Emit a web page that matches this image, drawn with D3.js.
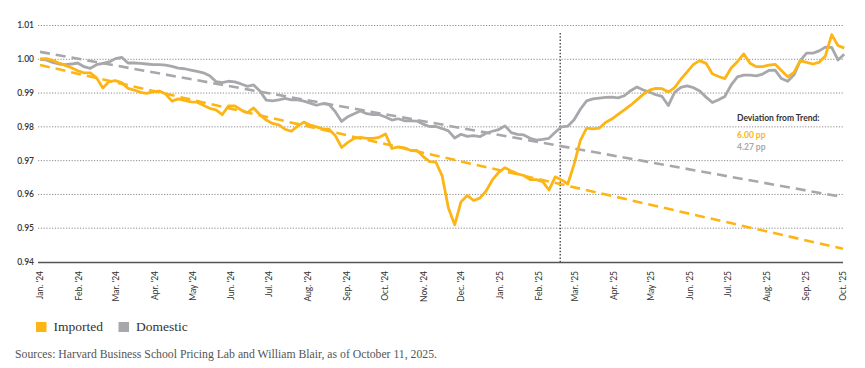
<!DOCTYPE html>
<html>
<head>
<meta charset="utf-8">
<script src="https://cdn.jsdelivr.net/npm/d3@7"></script>
<style>
    body { margin: 0; background: #fff; }
</style>
</head>
<body>
<svg id="chart" width="865" height="368" font-family="Lato, 'Open Sans', sans-serif"></svg>
<script>
// month tick labels (Jan '24 .. Oct '25)
const monthLabels = ["Jan. '24", "Feb. '24", "Mar. '24", "Apr. '24", "May '24", "Jun. '24", "Jul. '24",
    "Aug. '24", "Sep. '24", "Oct. '24", "Nov. '24", "Dec. '24", "Jan. '25", "Feb. '25", "Mar. '25",
    "Apr. '25", "May '25", "Jun. '25", "Jul. '25", "Aug. '25", "Sep. '25", "Oct. '25"];

// one reading every 5 days starting Jan 1, 2024
const startDate = new Date(2024, 0, 1);
const stepDays = 5;

const imported = [
    1.0001, 1.0002, 0.9997, 0.9989, 0.9982, 0.9975, 0.9966, 0.9960, 0.9960, 0.9945,
    0.9915, 0.9934, 0.9937, 0.9931, 0.9914, 0.9909, 0.9902, 0.9899, 0.9904, 0.9906,
    0.9897, 0.9876, 0.9883, 0.9878, 0.9874, 0.9873, 0.9864, 0.9855, 0.9850, 0.9836,
    0.9862, 0.9862, 0.9850, 0.9842, 0.9856, 0.9836, 0.9820, 0.9810, 0.9806, 0.9793,
    0.9787, 0.9802, 0.9814, 0.9805, 0.9800, 0.9794, 0.9793, 0.9774, 0.9739, 0.9754,
    0.9766, 0.9769, 0.9766, 0.9766, 0.9769, 0.9779, 0.9736, 0.9741, 0.9738, 0.9730,
    0.9730, 0.9712, 0.9697, 0.9696, 0.9655, 0.9560, 0.9510, 0.9578, 0.9597, 0.9582,
    0.9589, 0.9610, 0.9643, 0.9665, 0.9679, 0.9669, 0.9661, 0.9656, 0.9644, 0.9644,
    0.9638, 0.9613, 0.9652, 0.9643, 0.9631, 0.9689, 0.9760, 0.9796, 0.9794, 0.9796,
    0.9813, 0.9823, 0.9837, 0.9850, 0.9864, 0.9880, 0.9896, 0.9909, 0.9914, 0.9913,
    0.9903, 0.9916, 0.9941, 0.9963, 0.9985, 0.9996, 0.9988, 0.9957, 0.9949, 0.9943,
    0.9974, 0.9993, 1.0016, 0.9988, 0.9978, 0.9978, 0.9983, 0.9985, 0.9967, 0.9948,
    0.9961, 0.9996, 0.9991, 0.9986, 0.9991, 1.0010, 1.0073, 1.0041, 1.0033
];

const domestic = [
    1.0000, 0.9998, 0.9991, 0.9986, 0.9984, 0.9986, 0.9989, 0.9978, 0.9973, 0.9984,
    0.9988, 0.9992, 1.0002, 1.0006, 0.9989, 0.9989, 0.9988, 0.9986, 0.9984, 0.9984,
    0.9983, 0.9979, 0.9974, 0.9972, 0.9968, 0.9964, 0.9960, 0.9951, 0.9934, 0.9931,
    0.9935, 0.9933, 0.9927, 0.9920, 0.9924, 0.9906, 0.9879, 0.9877, 0.9880, 0.9884,
    0.9880, 0.9880, 0.9876, 0.9870, 0.9864, 0.9869, 0.9866, 0.9845, 0.9816, 0.9830,
    0.9839, 0.9847, 0.9839, 0.9836, 0.9836, 0.9829, 0.9820, 0.9824, 0.9818, 0.9818,
    0.9817, 0.9808, 0.9801, 0.9801, 0.9795, 0.9788, 0.9767, 0.9778, 0.9772, 0.9774,
    0.9771, 0.9781, 0.9787, 0.9792, 0.9803, 0.9783, 0.9778, 0.9776, 0.9766, 0.9761,
    0.9763, 0.9766, 0.9784, 0.9800, 0.9802, 0.9821, 0.9852, 0.9877, 0.9883, 0.9885,
    0.9887, 0.9888, 0.9886, 0.9892, 0.9907, 0.9918, 0.9909, 0.9903, 0.9895, 0.9890,
    0.9863, 0.9902, 0.9917, 0.9921, 0.9916, 0.9906, 0.9888, 0.9872, 0.9880, 0.9890,
    0.9924, 0.9948, 0.9953, 0.9953, 0.9951, 0.9956, 0.9967, 0.9968, 0.9943, 0.9935,
    0.9954, 0.9996, 1.0018, 1.0018, 1.0025, 1.0036, 1.0035, 0.9998, 1.0015
];

// linear trend lines (start / end)
const trendDates = ["2024-01-01", "2025-10-01"];
const importedTrend = [0.9983, 0.9439];
const domesticTrend = [1.0022, 0.9592];

const eventDate = "2025-02-18";
const yTicks = [0.94, 0.95, 0.96, 0.97, 0.98, 0.99, 1.00, 1.01];

const deviationTitle = "Deviation from Trend:";
const deviationLabels = ["6.00 pp", "4.27 pp"];

const legendNames = ["Imported", "Domestic"];
const sourceNote = "Sources: Harvard Business School Pricing Lab and William Blair, as of October 11, 2025.";

const colors = { imported: "#FDB515", domestic: "#A7A8AB" };

const svg = d3.select("#chart");
const parse = d3.timeParse("%Y-%m-%d");

const x = d3.scaleTime()
    .domain([new Date(2024, 0, 1), new Date(2025, 9, 1)])
    .range([40, 843]);
const y = d3.scaleLinear()
    .domain([0.94, 1.01])
    .range([262, 25.5]);

// horizontal gridlines
svg.append("g")
    .selectAll("line")
    .data(yTicks.filter(d => d > 0.94))
    .enter().append("line")
    .attr("x1", 38)
    .attr("x2", 843)
    .attr("y1", d => y(d))
    .attr("y2", d => y(d))
    .attr("stroke", "#6d6d6d")
    .attr("stroke-width", 0.8)
    .attr("stroke-dasharray", "1.2,1.6");

// y labels
svg.append("g")
    .selectAll("text")
    .data(yTicks)
    .enter().append("text")
    .attr("x", 34)
    .attr("y", d => y(d))
    .attr("dy", "0.35em")
    .attr("text-anchor", "end")
    .attr("font-size", 8.5)
    .attr("font-weight", 600)
    .attr("fill", "#333")
    .text(d => d3.format(".2f")(d));

// x axis
const monthDates = monthLabels.map((_, i) => new Date(2024, i, 1));
const xAxis = svg.append("g")
    .attr("transform", "translate(0,262)")
    .call(d3.axisBottom(x).tickValues(monthDates).tickFormat((d, i) => monthLabels[i]).tickSize(0));
xAxis.select(".domain").remove();
xAxis.attr("font-family", null).attr("font-size", null);
xAxis.selectAll("text")
    .attr("transform", "rotate(-90)")
    .attr("x", -9)
    .attr("y", 0)
    .attr("dy", "0.35em")
    .attr("text-anchor", "end")
    .attr("font-size", 8.5)
    .attr("fill", "#333");

svg.append("line")
    .attr("x1", 38).attr("x2", 843)
    .attr("y1", 262.5).attr("y2", 262.5)
    .attr("stroke", "#555")
    .attr("stroke-width", 1.6);

// event marker
svg.append("line")
    .attr("x1", x(parse(eventDate))).attr("x2", x(parse(eventDate)))
    .attr("y1", 33).attr("y2", 262)
    .attr("stroke", "#555")
    .attr("stroke-width", 1.5)
    .attr("stroke-dasharray", "1.5,1.8");

// trend lines
const trendLine = d3.line()
    .x((d, i) => x(parse(trendDates[i])))
    .y(d => y(d));

svg.append("path")
    .attr("d", trendLine(domesticTrend))
    .attr("fill", "none")
    .attr("stroke", colors.domestic)
    .attr("stroke-width", 2.6)
    .attr("stroke-dasharray", "10,6");

svg.append("path")
    .attr("d", trendLine(importedTrend))
    .attr("fill", "none")
    .attr("stroke", colors.imported)
    .attr("stroke-width", 2.6)
    .attr("stroke-dasharray", "10,6");

// series
const line = d3.line()
    .x((d, i) => x(d3.timeDay.offset(startDate, i * stepDays)))
    .y(d => y(d));

svg.append("path")
    .attr("d", line(domestic))
    .attr("fill", "none")
    .attr("stroke", colors.domestic)
    .attr("stroke-width", 2.8)
    .attr("stroke-linejoin", "round");

svg.append("path")
    .attr("d", line(imported))
    .attr("fill", "none")
    .attr("stroke", colors.imported)
    .attr("stroke-width", 2.8)
    .attr("stroke-linejoin", "round");

// deviation note
const note = svg.append("g").attr("font-weight", "bold").attr("font-size", 8.5);
note.append("text")
    .attr("x", 737).attr("y", 121)
    .attr("fill", "#333")
    .text(deviationTitle);
note.selectAll(".dev")
    .data(deviationLabels)
    .enter().append("text")
    .attr("class", "dev")
    .attr("x", 737)
    .attr("y", (d, i) => 138 + i * 12)
    .attr("fill", (d, i) => i == 0 ? colors.imported : colors.domestic)
    .text(d => d);

// legend
const legend = svg.append("g")
    .selectAll("g")
    .data(legendNames)
    .enter().append("g")
    .attr("transform", (d, i) => `translate(${36 + i * 82.5},322)`);
legend.append("rect")
    .attr("width", 10.5)
    .attr("height", 10)
    .attr("fill", (d, i) => i == 0 ? colors.imported : colors.domestic);
legend.append("text")
    .attr("x", 17.5)
    .attr("y", 9)
    .attr("font-family", "'Liberation Serif', serif")
    .attr("font-size", 13.5)
    .attr("fill", "#333")
    .text(d => d);

// source
svg.append("text")
    .attr("x", 15)
    .attr("y", 358)
    .attr("font-family", "'Liberation Serif', serif")
    .attr("font-size", 12)
    .attr("fill", "#555")
    .attr("textLength", 422)
    .attr("lengthAdjust", "spacingAndGlyphs")
    .text(sourceNote);
</script>
</body>
</html>
